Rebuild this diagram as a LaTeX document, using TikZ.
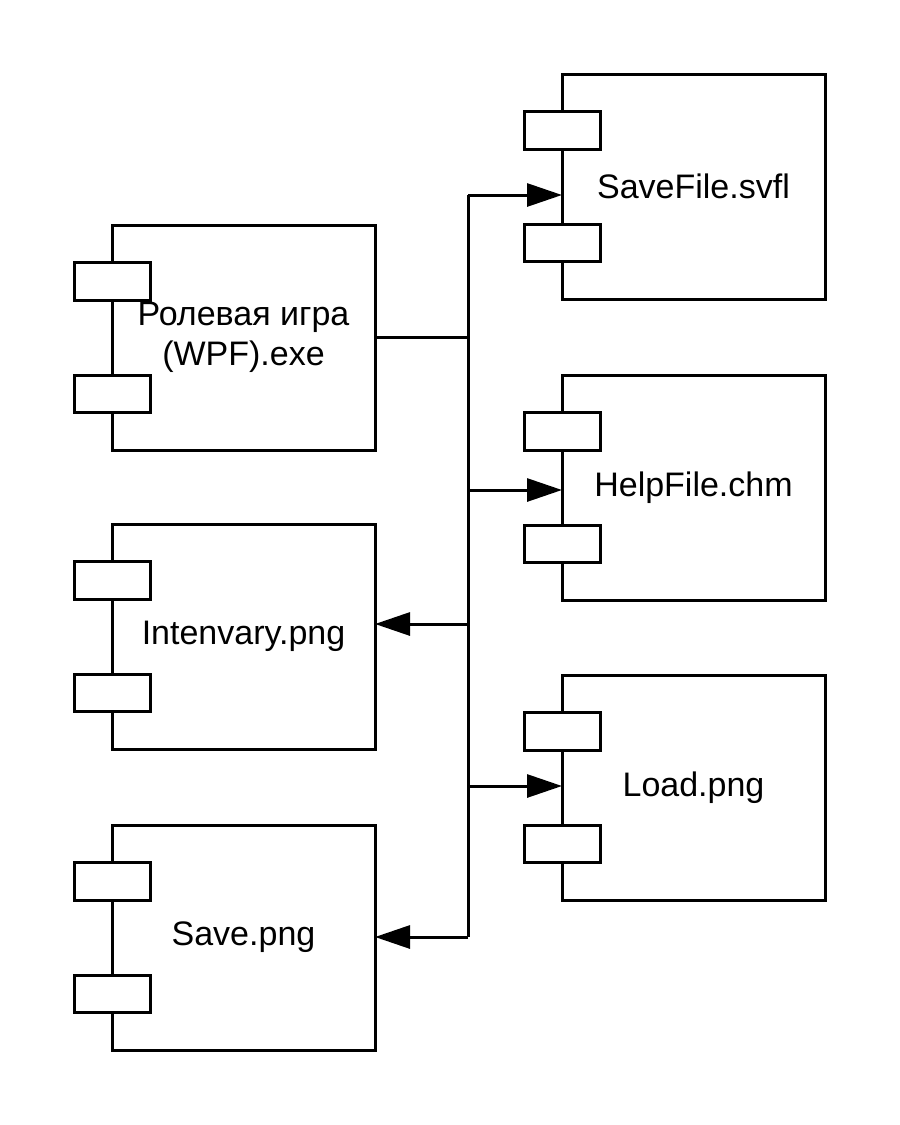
\documentclass[tikz,border=0pt]{standalone}
\usepackage{fontspec}
\setmainfont{Liberation Sans}
\usetikzlibrary{arrows.meta, calc}

\begin{document}
\begin{tikzpicture}[x=1pt, y=-1pt,
    every node/.style={font=\fontsize{34}{40}\selectfont},
    component/.style={draw, line width=3pt, outer sep=0pt, inner sep=0pt,
        minimum width=263pt, minimum height=225pt, align=center},
    tab/.style={draw, fill=white, line width=3pt, outer sep=0pt, inner sep=0pt,
        minimum width=76pt, minimum height=37.5pt},
    link/.style={line width=3pt},
    flow/.style={line width=3pt, -{Triangle[length=35pt, width=23pt]}}]

    % ---- Canvas ----
    \useasboundingbox (0,0) rectangle (900,1125);

    % ---- Parameters ----
    \def\Lx{243.5}     % left column centre x
    \def\Rx{693.5}     % right column centre x
    \def\Bx{468}       % bus x

    % ---- Components ----
    \node[component] (game)      at (\Lx,337.5) {Ролевая игра\\(WPF).exe};
    \node[component] (inventory) at (\Lx,636.5) {Intenvary.png};
    \node[component] (savepng)   at (\Lx,937.5) {Save.png};
    \node[component] (savefile)  at (\Rx,186.5) {SaveFile.svfl};
    \node[component] (helpfile)  at (\Rx,487.5) {HelpFile.chm};
    \node[component] (loadpng)   at (\Rx,787.5) {Load.png};

    % ---- Tabs on the left edge ----
    \foreach \c in {game, inventory, savepng, savefile, helpfile, loadpng} {
        \node[tab] (\c-t1) at ($(\c.north west)+(0,56.5)$) {};
        \node[tab] (\c-t2) at ($(\c.north west)+(0,169)$) {};
    }

    % ---- Bus ----
    \coordinate (bus-in)   at (\Bx,337.5);
    \coordinate (bus-sf)   at (\Bx,195);
    \coordinate (bus-hf)   at (\Bx,490);
    \coordinate (bus-inv)  at (\Bx,624);
    \coordinate (bus-ld)   at (\Bx,786);
    \coordinate (bus-sv)   at (\Bx,937);

    \draw[link] (game.east |- bus-in) -- (bus-in);
    \draw[link] (bus-sf) -- (bus-sv);

    % ---- Arrows ----
    \draw[flow] (bus-sf)  -- (bus-sf -| savefile.west);
    \draw[flow] (bus-hf)  -- (bus-hf -| helpfile.west);
    \draw[flow] (bus-ld)  -- (bus-ld -| loadpng.west);
    \draw[flow] (bus-inv) -- (bus-inv -| inventory.east);
    \draw[flow] (bus-sv)  -- (bus-sv -| savepng.east);

\end{tikzpicture}
\end{document}
